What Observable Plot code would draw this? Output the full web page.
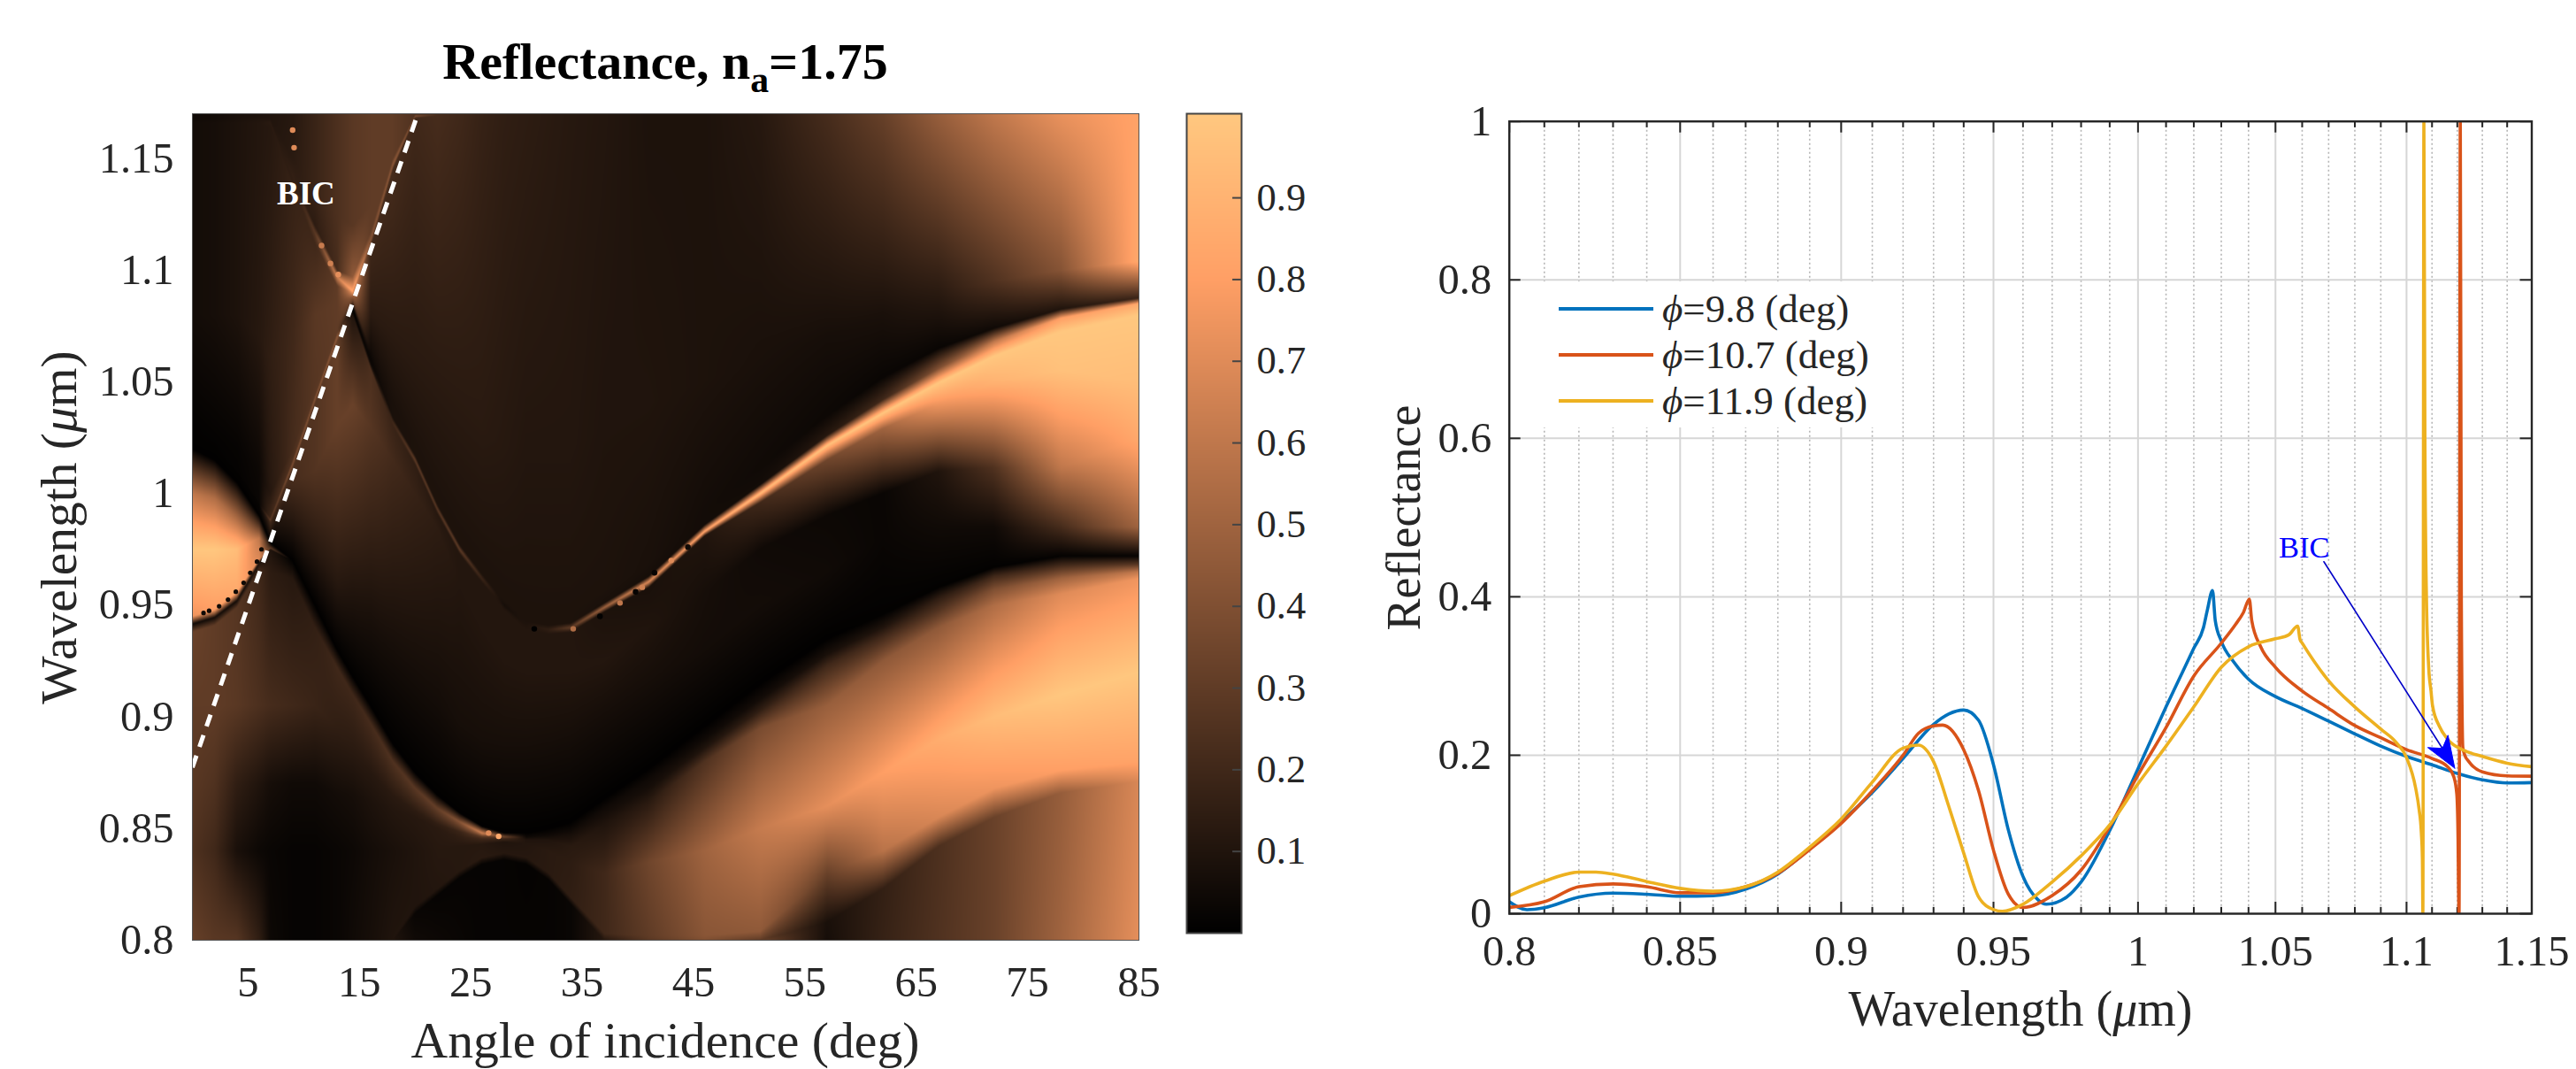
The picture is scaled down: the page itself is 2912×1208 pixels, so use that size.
<!DOCTYPE html>
<html><head><meta charset="utf-8">
<script src="https://cdn.jsdelivr.net/npm/d3@7"></script>
<script src="https://cdn.jsdelivr.net/npm/@observablehq/plot@0.6"></script>
<style>
html,body{margin:0;padding:0;background:#fff}
#page{position:relative;width:2912px;height:1208px;overflow:hidden;font-family:"Liberation Serif",serif;color:#262626}
#page>svg,#page>div.p{position:absolute;top:0}
.t{position:absolute;white-space:nowrap;line-height:1;transform:translate(-50%,-50%)}
.r{transform:translate(-50%,-50%) rotate(-90deg)}
#legend{position:absolute;left:1716px;top:318px;width:404px;height:165px;background:#fff}
.row{position:absolute;left:46px;height:52px;display:flex;align-items:center;font-size:45px;white-space:nowrap}
.sw{display:inline-block;width:107px;height:4px;margin-right:10px}
</style></head><body><div id="page"></div>
<script>
const columnAngles=[0,2,4,6,7,9,11,13,14.4,16,18,20,22,24,26,28,30,32,34,37,41,46,51,57,62,67,72,78,85];
const floorLambda=Array(29).fill(0.8);
const floorR=[.32,.28,.27,.15,.04,.02,.02,.03,.05,.07,.1,.05,.04,.03,.02,.02,.02,.02,.03,.12,.28,.4,.35,.07,.17,.25,.33,.5,.72];
const archLowLambda=[.8,.8,.8,.8,.8,.8,.8,.8,.8,.8,.8,.812,.82,.828,.834,.836,.834,.827,.816,.8,.8,.8,.8,.808,.823,.842,.855,.866,.871];
const archLowR=[.32,.28,.27,.15,.04,.02,.02,.03,.05,.07,.1,.03,.02,.02,.02,.02,.015,.02,.03,.12,.28,.4,.3,.08,.16,.24,.33,.47,.68];
const archHighLambda=[.8,.8,.8,.8,.8,.8,.8,.8,.8,.8,.8,.815,.823,.831,.837,.839,.837,.83,.819,.803,.802,.802,.804,.83,.84,.855,.868,.876,.88];
const archHighR=[.32,.28,.27,.15,.04,.02,.02,.03,.05,.07,.1,.1,.11,.12,.13,.12,.12,.13,.15,.2,.3,.43,.45,.33,.58,.68,.75,.8,.82];
const midLambda=[.84,.84,.84,.84,.84,.84,.84,.84,.84,.84,.84,.84,.84,.842,.843,.844,.843,.84,.835,.83,.835,.84,.85,.86,.875,.89,.9,.91,.92];
const midR=[.25,.2,.08,.04,.03,.02,.02,.03,.04,.06,.08,.1,.12,.12,.12,.1,.11,.13,.14,.2,.35,.5,.62,.72,.8,.87,.95,1,1];
const flankLambda=[.87,.87,.87,.87,.87,.87,.87,.865,.865,.862,.858,.855,.85,.846,.8455,.8455,.845,.845,.842,.852,.862,.88,.895,.905,.925,.94,.95,.955,.962];
const flankR=[.28,.25,.15,.1,.07,.05,.05,.06,.07,.09,.11,.12,.13,.15,.2,.2,.1,.1,.13,.1,.13,.25,.38,.48,.45,.45,.55,.7,.75];
const bandLambda=[.905,.905,.905,.905,.905,.905,.905,.895,.885,.875,.865,.858,.852,.8485,.8465,.8458,.8455,.846,.8475,.856,.868,.886,.903,.923,.936,.948,.957,.962,.965];
const bandR=[.3,.3,.28,.24,.22,.2,.18,.15,.13,.12,.13,.14,.15,.18,.3,.25,.08,.07,.07,.07,.07,.1,.15,.2,.2,.25,.4,.5,.6];
const crestLambda=[.938,.941,.949,.966,.965,.962,.94,.922,.91,.897,.88,.868,.859,.853,.848,.8463,.846,.847,.849,.859,.872,.89,.908,.928,.94,.953,.963,.968,.968];
const crestR=[.33,.3,.27,.2,.14,.12,.16,.2,.2,.22,.25,.28,.32,.42,.65,.35,.05,.05,.05,.05,.05,.05,.06,.08,.1,.15,.2,.2,.3];
const valleyLambda=[1.02,1.015,1.005,.99,.978,.97,.95,.93,.918,.905,.888,.875,.865,.857,.851,.848,.848,.85,.853,.8635,.877,.896,.915,.935,.946,.958,.967,.972,.972];
const valleyR=[.005,.005,.005,.005,.005,.005,.005,.005,.005,.005,.005,.005,.005,.005,.005,.005,.005,.005,.005,.005,.005,.005,.005,.005,.01,.01,.01,.015,.02];
const blobEdgeLambda=[.9415,.9445,.952,.969,.975,...valleyLambda.slice(5)];
const blobEdgeR=[.05,.06,.06,.08,.1,...valleyR.slice(5)];
const blobBrightLambda=[.945,.948,.956,.9705,.9755,...valleyLambda.slice(5)];
const blobBrightR=[.75,.8,.85,.7,.3,...valleyR.slice(5)];
const blobCoreLambda=[.975,.975,.975,.98,.977,...valleyLambda.slice(5)];
const blobCoreR=[1,1,.95,.6,.1,...valleyR.slice(5)];
const blobTopLambda=[1,.998,.99,.985,.9775,...valleyLambda.slice(5)];
const blobTopR=[.6,.55,.5,.3,.05,...valleyR.slice(5)];
const aboveValleyLambda=[1.021,1.016,1.006,.991,.979,.985,.975,.96,.955,.945,.925,.915,.905,.897,.89,.888,.888,.89,.893,.903,.917,.93,.95,.965,.98,.985,.985,.985,.985];
const aboveValleyR=[.005,.005,.005,.01,.03,.1,.12,.12,.1,.08,.06,.06,.06,.07,.07,.07,.07,.07,.07,.07,.07,.06,.06,.05,.03,.05,.05,.22,.5];
const wedgeLambda=[1.022,1.017,1.007,.992,.98,1.005,1.01,1.03,1.04,1.03,1.015,1,.985,.96,.94,.925,.92,.92,.92,.925,.94,.955,.975,.99,1,1.01,1.0115,1.0115,1.025];
const wedgeR=[.005,.005,.01,.015,.05,.22,.26,.32,.33,.27,.21,.17,.14,.11,.11,.11,.11,.11,.11,.11,.1,.07,.05,.04,.03,.1,.25,.6,.85];
const ridgeLowLambda=[1.023,1.018,1.008,.994,.987,1.011,1.04,1.068,1.08,1.056,1.03,1.013,.991,.973,.96,.948,.939,.937,.938,.947,.958,.981,.996,1.015,1.029,1.04,1.05,1.055,1.05];
const ridgeLowR=[.01,.01,.01,.02,.2,.24,.26,.32,.1,.24,.18,.15,.12,.11,.11,.11,.11,.11,.11,.09,.08,.1,.2,.35,.5,.75,.9,.97,.95];
const ridgePeakLambda=[1.024,1.019,1.009,.995,.988,1.013,1.042,1.07,1.082,1.058,1.032,1.015,.993,.975,.962,.95,.941,.939,.94,.949,.9605,.983,1,1.0215,1.036,1.0495,1.0615,1.0725,1.08];
const ridgePeakR=[.01,.01,.01,.02,.3,.4,.42,.45,0,.05,.2,.3,.28,.3,.18,.07,.1,.15,.3,.5,.7,.85,.95,.98,1,1,1,1,1];
const ridgeHighLambda=[1.025,1.02,1.01,.996,.989,1.015,1.044,1.072,1.084,1.06,1.034,1.017,.995,.977,.964,.952,.943,.941,.942,.951,.963,.986,1.004,1.026,1.042,1.056,1.068,1.0785,1.085];
const ridgeHighR=[.01,.01,.015,.03,.2,.25,.28,.3,.05,.03,.08,.09,.09,.09,.09,.09,.09,.09,.09,.08,.07,.06,.06,.12,.2,.4,.6,.8,.85];
const ridgeDarkLambda=[1.03,1.03,1.02,1.01,1,1.02,1.05,1.076,1.086,1.065,1.04,1.022,1,.982,.969,.957,.948,.946,.947,.956,.968,.992,1.012,1.035,1.052,1.065,1.074,1.0825,1.0875];
const ridgeDarkR=[.01,.02,.02,.04,.12,.22,.27,.3,.3,.06,.08,.09,.09,.09,.09,.09,.09,.09,.09,.09,.08,.06,.05,.04,.03,.03,.05,.1,.18];
const upperLambda=[1.08,1.08,1.08,1.07,1.06,1.07,1.08,1.085,1.088,1.08,1.07,1.06,1.05,1.04,1.03,1.02,1.02,1.02,1.02,1.03,1.04,1.05,1.06,1.07,1.08,1.09,1.095,1.1,1.104];
const upperR=[.06,.07,.09,.12,.15,.2,.28,.3,.45,.13,.13,.13,.13,.13,.13,.12,.11,.11,.11,.1,.1,.09,.08,.07,.08,.13,.25,.42,.85];
const topLambda=Array(29).fill(1.17);
const topR=[.05,.06,.08,.09,.1,.12,.18,.24,.28,.3,.3,.25,.22,.2,.17,.15,.14,.13,.12,.11,.09,.09,.12,.22,.32,.47,.6,.73,.82];
const cuspLowLambda=[1.164,1.164,1.164,1.164,1.164,1.138,1.112,1.093,1.0895,1.11,1.145,1.168,...Array(17).fill(1.169)];
const cuspLowR=[.06,.07,.09,.11,.12,.17,.2,.3,.7,.2,.22,.2,...topR.slice(12)];
const cuspPeakLambda=[1.166,1.166,1.166,1.166,1.166,1.14,1.117,1.097,1.0905,1.113,1.147,1.169,...Array(17).fill(1.1695)];
const cuspPeakR=[.06,.07,.09,.11,.13,.15,.28,.65,.85,.42,.45,.4,...topR.slice(12)];
const cuspHighLambda=[1.168,1.168,1.168,1.168,1.168,1.142,1.12,1.1,1.097,1.117,1.15,1.1695,...Array(17).fill(1.1698)];
const cuspHighR=[.05,.06,.08,.1,.1,.16,.14,.22,.45,.3,.3,.25,...topR.slice(12)];
const aboveCuspLambda=[1.169,1.169,1.169,1.169,1.169,1.15,1.135,1.125,1.12,1.13,1.16,1.1697,...Array(17).fill(1.1699)];
const aboveCuspR=[.05,.06,.08,.09,.1,.13,.18,.24,.28,.3,.3,.25,...topR.slice(12)];
const levelLambda=[floorLambda,archLowLambda,archHighLambda,midLambda,flankLambda,bandLambda,crestLambda,blobEdgeLambda,blobBrightLambda,blobCoreLambda,blobTopLambda,valleyLambda,aboveValleyLambda,wedgeLambda,ridgeLowLambda,ridgePeakLambda,ridgeHighLambda,ridgeDarkLambda,upperLambda,cuspLowLambda,cuspPeakLambda,cuspHighLambda,aboveCuspLambda,topLambda];
const levelR=[floorR,archLowR,archHighR,midR,flankR,bandR,crestR,blobEdgeR,blobBrightR,blobCoreR,blobTopR,valleyR,aboveValleyR,wedgeR,ridgeLowR,ridgePeakR,ridgeHighR,ridgeDarkR,upperR,cuspLowR,cuspPeakR,cuspHighR,aboveCuspR,topR];
// small isolated spots along the sharp resonances: [angle, wavelength, reflectance]
const resonanceSpots=[[9,1.1627,.7],[9.13,1.1548,.7],[11.6,1.111,.62],[12.4,1.103,.65],[13.1,1.098,.72],[27.5,.8465,.85],[26.6,.848,.7],
 [30.7,.9394,0],[34.2,.9394,.55],[36.6,.945,.01],[38.4,.951,.6],[39.8,.956,.02],[40.4,.958,.65],[41.5,.9645,.02],[43,.97,.7],[44.5,.976,.05]];
const blobSpots=[[1,.9465,.05],[1.5,.9475,.05],[2.4,.9495,.05],[3.2,.9525,.05],[3.9,.956,.05],[4.6,.96,.05],[5.2,.9645,.05],[5.8,.9695,.05],[6.2,.975,.05]];
const incidenceLine=[[0,.8774],[20.25,1.17]];
const angleTicks=[5,15,25,35,45,55,65,75,85];
const heatWavelengthTicks=[.8,.85,.9,.95,1,1.05,1.1,1.15];
const barTicks=[.1,.2,.3,.4,.5,.6,.7,.8,.9];

// ---------- right panel: spectra
const wave98=[.8,.805,.81,.82,.83,.84,.85,.86,.87,.88,.89,.9,.91,.92,.93,.935,.94,.945,.95,.955,.96,.965,.968,.975,.98,.99,1,1.01,1.02,1.0235,1.0249,1.0268,1.0278,1.03,1.0345,1.04,1.05,1.06,1.07,1.08,1.09,1.1,1.11,1.12,1.13,1.14,1.15];
const refl98=[.015,.005,.0075,.021,.026,.0245,.022,.0227,.031,.05,.082,.116,.153,.196,.239,.252,.257,.244,.188,.106,.047,.018,.012,.021,.04,.105,.183,.261,.335,.361,.383,.408,.37,.344,.318,.296,.274,.259,.243,.227,.2115,.1985,.188,.177,.169,.165,.1655];
const wave107=[.8,.81,.82,.83,.84,.85,.86,.87,.88,.89,.9,.91,.92,.925,.93,.933,.94,.945,.95,.955,.96,.97,.98,.99,1,1.01,1.02,1.03,1.0352,1.0381,1.0403,1.0412,1.0445,1.05,1.06,1.07,1.08,1.09,1.1,1.11,1.1163,1.1186,1.1198,1.1203,1.1205,1.1207,1.1212,1.1216,1.1222,1.123,1.1246,1.13,1.14,1.15];
const refl107=[.008,.015,.034,.0376,.034,.0264,.0264,.034,.051,.081,.114,.155,.2,.2276,.237,.238,.207,.155,.08,.0246,.0078,.023,.055,.11,.175,.235,.3,.3415,.365,.38,.397,.37,.337,.311,.281,.259,.2375,.222,.207,.196,.185,.173,.151,.095,.03,0,1,.4,.21,.2,.192,.179,.174,.1735];
const wave119=[.8,.81,.82,.825,.83,.84,.85,.86,.87,.88,.89,.9,.91,.92,.925,.93,.935,.94,.945,.95,.953,.96,.97,.98,.99,1,1.01,1.02,1.03,1.04,1.05,1.055,1.0583,1.0592,1.06,1.07,1.08,1.09,1.096,1.1,1.1036,1.1049,1.1058,1.1062,1.1064,1.1068,1.1072,1.1078,1.1087,1.1096,1.1102,1.1129,1.1163,1.1222,1.13,1.14,1.15];
const refl119=[.0227,.041,.0525,.0525,.05,.0406,.032,.0283,.034,.0525,.084,.1195,.166,.209,.2127,.192,.136,.0767,.021,.0052,.003,.012,.04,.073,.112,.164,.2115,.261,.311,.337,.347,.352,.363,.346,.3416,.294,.261,.233,.216,.197,.158,.132,.102,.07,0,1,.6,.4,.31,.281,.2626,.2365,.2197,.2067,.1985,.19,.1855];
const seriesNames=["9.8","10.7","11.9"];
const seriesColors=["#0072BD","#D95319","#EDB120"];
const majorWave=[.8,.85,.9,.95,1,1.05,1.1,1.15];
const minorWave=[.81,.82,.83,.84,.86,.87,.88,.89,.91,.92,.93,.94,.96,.97,.98,.99,1.01,1.02,1.03,1.04,1.06,1.07,1.08,1.09,1.11,1.12,1.13,1.14];
const reflTicks=[0,.2,.4,.6,.8,1];
const bicArrowShaft=[[1.0682,.4443],[1.1141,.2086]];
const bicArrowHead=[[1.119,.1836],[1.1083,.2097],[1.1141,.2086],[1.1163,.2253],[1.119,.1836]];
const bicLabel=[[1.0608,.4616]];

const font='"Liberation Serif",serif', ink="#262626";
const style={fontFamily:font,color:ink,background:"transparent",overflow:"visible"};
const copper={type:"linear",domain:[0,.8,1],range:["#000000","#ff9f65","#ffc77f"],clamp:true};
const page=document.getElementById("page");

function sampleR(x,y){
  let i=d3.bisectRight(columnAngles,x)-1; i=Math.max(0,Math.min(columnAngles.length-2,i));
  const t=(x-columnAngles[i])/(columnAngles[i+1]-columnAngles[i]);
  let pl=null,pr=null;
  for(let k=0;k<levelLambda.length;k++){
    const l=levelLambda[k][i]*(1-t)+levelLambda[k][i+1]*t, r=levelR[k][i]*(1-t)+levelR[k][i+1]*t;
    if(y<=l){ if(pl===null||l<=pl) return r; return pr+(y-pl)/(l-pl)*(r-pr); }
    pl=l;pr=r;
  }
  return pr;
}

// heat map
const heat=Plot.plot({width:1330,height:1208,marginLeft:217,marginRight:43,marginTop:128,marginBottom:146,style,
  x:{domain:[0,85]},y:{domain:[.8,1.17]},color:copper,
  marks:[
    Plot.raster({fill:sampleR,x1:0,x2:85,y1:.8,y2:1.17,pixelSize:1,imageRendering:"auto"}),
    Plot.dot(resonanceSpots,{x:d=>d[0],y:d=>d[1],fill:d=>d[2],r:3.2}),
    Plot.dot(blobSpots,{x:d=>d[0],y:d=>d[1],fill:d=>d[2],r:2.6}),
    Plot.line(incidenceLine,{x:d=>d[0],y:d=>d[1],stroke:"#fff",strokeWidth:5,strokeDasharray:"14,10.5",strokeLinecap:"butt",clip:true}),
    Plot.text([[10.2,1.134]],{x:d=>d[0],y:d=>d[1],text:()=>"BIC",fill:"#fff",fontWeight:"bold",fontSize:37}),
    Plot.frame({stroke:"#555",strokeWidth:1}),
    Plot.axisX({ticks:angleTicks,tickSize:0,tickPadding:29,fontSize:48.5,tickFormat:d=>String(d),label:null}),
    Plot.axisY({ticks:heatWavelengthTicks,tickSize:0,tickPadding:21,fontSize:48.5,tickFormat:d=>String(d),label:null})
  ]});
heat.style.left="0px";page.appendChild(heat);

// colour bar
const bar=Plot.plot({width:240,height:1208,marginLeft:21,marginRight:157,marginTop:128,marginBottom:154,style,
  x:{domain:[0,1],axis:null},y:{domain:[0,1.003]},color:copper,
  marks:[
    Plot.raster({fill:(x,y)=>y,x1:0,x2:1,y1:0,y2:1.003,pixelSize:1}),
    Plot.ruleY(barTicks,{x1:.84,x2:1,stroke:"#444",strokeWidth:2}),
    Plot.frame({stroke:"#444",strokeWidth:2}),
    Plot.axisY({anchor:"right",ticks:barTicks,tickSize:0,tickPadding:17,fontSize:44.5,tickFormat:d=>String(d),label:null})
  ]});
bar.style.left="1320px";page.appendChild(bar);

// spectra
const rows=(w,r,n)=>w.map((x,i)=>({x,y:r[i],n}));
const tickRatio=Math.exp(13/3184);
const spectra=Plot.plot({width:1412,height:1208,marginLeft:205.7,marginRight:50.5,marginTop:136.7,marginBottom:176,style,
  x:{type:"log",domain:[.8,1.15]},y:{domain:[0,1]},
  marks:[
    Plot.ruleX(minorWave,{stroke:"#b4b4b4",strokeWidth:1.6,strokeDasharray:"2,3"}),
    Plot.ruleX(majorWave,{stroke:"#d6d6d6",strokeWidth:2}),
    Plot.ruleY(reflTicks,{stroke:"#d6d6d6",strokeWidth:2}),
    Plot.ruleX(minorWave,{y1:0,y2:.008,stroke:ink,strokeWidth:2}),
    Plot.ruleX(minorWave,{y1:.992,y2:1,stroke:ink,strokeWidth:2}),
    Plot.ruleX(majorWave,{y1:0,y2:.0145,stroke:ink,strokeWidth:2}),
    Plot.ruleX(majorWave,{y1:.9855,y2:1,stroke:ink,strokeWidth:2}),
    Plot.ruleY(reflTicks,{x1:.8,x2:.8*tickRatio,stroke:ink,strokeWidth:2}),
    Plot.ruleY(reflTicks,{x1:1.15/tickRatio,x2:1.15,stroke:ink,strokeWidth:2}),
    Plot.line(rows(wave98,refl98,0),{x:"x",y:"y",stroke:seriesColors[0],strokeWidth:3.6,curve:"monotone-x",clip:true}),
    Plot.line(rows(wave107,refl107,1),{x:"x",y:"y",stroke:seriesColors[1],strokeWidth:3.6,curve:"monotone-x",clip:true}),
    Plot.line(rows(wave119,refl119,2),{x:"x",y:"y",stroke:seriesColors[2],strokeWidth:3.6,curve:"monotone-x",clip:true}),
    Plot.line(bicArrowShaft,{x:d=>d[0],y:d=>d[1],stroke:"#0000c8",strokeWidth:1.6}),
    Plot.line(bicArrowHead,{x:d=>d[0],y:d=>d[1],stroke:"#0000ff",fill:"#0000ff",strokeWidth:1}),
    Plot.text(bicLabel,{x:d=>d[0],y:d=>d[1],text:()=>"BIC",fill:"#0000ff",fontSize:34.5}),
    Plot.frame({stroke:ink,strokeWidth:2.4}),
    Plot.axisX({ticks:majorWave,tickSize:0,tickPadding:24,fontSize:48.5,tickFormat:d=>String(d),label:null}),
    Plot.axisY({ticks:reflTicks,tickSize:0,tickPadding:20,fontSize:48.5,tickFormat:d=>String(d),label:null})
  ]});
spectra.style.left="1500px";page.appendChild(spectra);

// titles and legend
function label(html,x,y,size,extra=""){const e=document.createElement("div");e.className="t "+extra;e.style.left=x+"px";e.style.top=y+"px";e.style.fontSize=size+"px";e.innerHTML=html;page.appendChild(e);return e;}
const title=label('Reflectance, n<span style="font-size:.72em;position:relative;top:.36em">a</span>=1.75',752,70,58);
title.style.fontWeight="bold";title.style.color="#000";
label('Angle of incidence (deg)',752,1175.5,57.7);
label('Wavelength (<i>μ</i>m)',67,596,57.5,"r");
label('Reflectance',1587,585,54,"r");
label('Wavelength (<i>μ</i>m)',2284,1140,56);
const legend=document.createElement("div");legend.id="legend";
seriesNames.forEach((n,i)=>{const r=document.createElement("div");r.className="row";r.style.top=(5+52*i)+"px";
  r.innerHTML=`<span class="sw" style="background:${seriesColors[i]}"></span><span><i>ϕ</i>=${n} (deg)</span>`;legend.appendChild(r);});
page.appendChild(legend);
</script></body></html>
